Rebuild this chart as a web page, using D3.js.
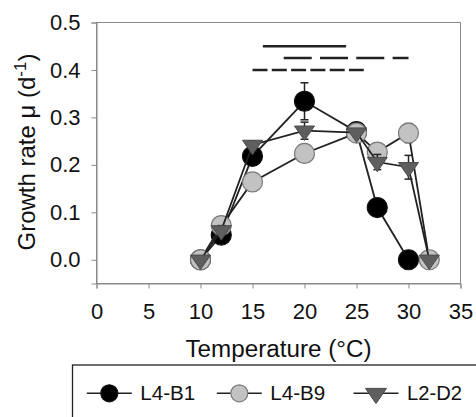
<!DOCTYPE html>
<html>
<head>
<meta charset="utf-8">
<script src="https://cdn.jsdelivr.net/npm/d3@7"></script>
<style>
  html, body { margin: 0; padding: 0; background: #fff; }
  svg { display: block; }
  text { font-family: "Liberation Sans", Arial, sans-serif; fill: #111; }
</style>
</head>
<body>
<svg id="chart" width="476" height="417"></svg>
<script>
// ---- data ----
const seriesNames = ["L4-B1", "L4-B9", "L2-D2"];
const tempsB1 = [10, 12, 15, 20, 25, 27, 30];
const valuesB1 = [0.0, 0.052, 0.218, 0.334, 0.270, 0.110, 0.0];
const errorsB1 = [0, 0.010, 0.010, 0.039, 0.005, 0.005, 0];
const tempsB9 = [10, 12, 15, 20, 25, 27, 30, 32];
const valuesB9 = [0.0, 0.072, 0.164, 0.224, 0.267, 0.227, 0.267, 0.0];
const errorsB9 = [0, 0.005, 0.005, 0.005, 0.005, 0.008, 0.020, 0];
const tempsD2 = [10, 12, 15, 20, 25, 27, 30, 32];
const valuesD2 = [0.0, 0.062, 0.242, 0.272, 0.268, 0.206, 0.195, 0.0];
const errorsD2 = [0, 0.010, 0.008, 0.018, 0.005, 0.016, 0.025, 0];
const xTicks = [0, 5, 10, 15, 20, 25, 30, 35];
const yTicks = [0.0, 0.1, 0.2, 0.3, 0.4, 0.5];
// significance bars: x start, x end, y level
const sigStarts = [16, 18, 15];
const sigEnds = [24, 30, 25.7];
const sigLevels = [0.45, 0.425, 0.40];

// ---- layout ----
const svg = d3.select("#chart");
const pLeft = 96.5, pRight = 460.5, pTop = 22.5, pBottom = 283.5;
const x = d3.scaleLinear().domain([0, 35]).range([pLeft, pRight]);
const y = d3.scaleLinear().domain([-0.05, 0.5]).range([pBottom, pTop]);

const frameColor = "#8a8a8a";
const lineColor = "#222";

// frame
svg.append("rect")
  .attr("x", pLeft).attr("y", pTop)
  .attr("width", pRight - pLeft).attr("height", pBottom - pTop)
  .attr("fill", "none").attr("stroke", frameColor).attr("stroke-width", 1);

// axes
const xAxis = svg.append("g").attr("transform", `translate(0,${pBottom})`)
  .call(d3.axisBottom(x).tickValues(xTicks).tickSize(5).tickPadding(15).tickFormat(d3.format("d")));
const yAxis = svg.append("g").attr("transform", `translate(${pLeft},0)`)
  .call(d3.axisLeft(y).tickValues(yTicks).tickSize(5).tickPadding(11).tickFormat(d3.format(".1f")));
[xAxis, yAxis].forEach(g => {
  g.select(".domain").attr("stroke", frameColor);
  g.selectAll(".tick line").attr("stroke", frameColor);
  g.selectAll(".tick text").attr("font-size", 22).attr("fill", "#111")
    .attr("font-family", '"Liberation Sans", Arial, sans-serif');
});

// axis titles
svg.append("text")
  .attr("x", (pLeft + pRight) / 2).attr("y", 357)
  .attr("text-anchor", "middle").attr("font-size", 23)
  .attr("textLength", 186).attr("lengthAdjust", "spacingAndGlyphs")
  .text("Temperature (°C)");

const yt = svg.append("text")
  .attr("transform", "translate(35,152) rotate(-90)")
  .attr("text-anchor", "middle").attr("font-size", 24);
yt.append("tspan").text("Growth rate μ (d");
yt.append("tspan").attr("font-size", 17).attr("dy", -9).text("-1");
yt.append("tspan").attr("dy", 9).text(")");

// significance lines
const sigDash = [null, "28,8.3", "15,4.3"];
sigLevels.forEach((lv, i) => {
  svg.append("line")
    .attr("x1", x(sigStarts[i])).attr("x2", x(sigEnds[i]))
    .attr("y1", y(lv)).attr("y2", y(lv))
    .attr("stroke", lineColor).attr("stroke-width", 2.5)
    .attr("stroke-dasharray", sigDash[i]);
});

// series
const series = [
  { name: seriesNames[0], t: tempsB1, v: valuesB1, e: errorsB1, shape: "circle", fill: "#000", stroke: "#111" },
  { name: seriesNames[1], t: tempsB9, v: valuesB9, e: errorsB9, shape: "circle", fill: "#c2c2c2", stroke: "#7a7a7a" },
  { name: seriesNames[2], t: tempsD2, v: valuesD2, e: errorsD2, shape: "tri", fill: "#5e5e5e", stroke: "#4a4a4a" }
];

const line = d3.line().x(d => x(d[0])).y(d => y(d[1]));

function drawMarker(g, shape, cx, cy, fill, stroke, size) {
  if (shape === "circle") {
    g.append("circle").attr("cx", cx).attr("cy", cy).attr("r", size)
      .attr("fill", fill).attr("stroke", stroke).attr("stroke-width", 1.2);
  } else {
    const w = size * 1.0, h = size * 0.85;
    g.append("path")
      .attr("d", `M${cx - w},${cy - h * 0.55}L${cx + w},${cy - h * 0.55}L${cx},${cy + h * 1.15}Z`)
      .attr("fill", fill).attr("stroke", stroke).attr("stroke-width", 1);
  }
}

series.forEach(s => {
  const g = svg.append("g");
  const pts = s.t.map((t, i) => [t, s.v[i], s.e[i]]);
  g.append("path").datum(pts).attr("d", line)
    .attr("fill", "none").attr("stroke", lineColor).attr("stroke-width", 1.8);
  // error bars
  pts.filter(p => p[2] > 0).forEach(p => {
    const cx = x(p[0]);
    const y1 = y(p[1] - p[2]), y2 = y(p[1] + p[2]);
    g.append("line").attr("x1", cx).attr("x2", cx).attr("y1", y1).attr("y2", y2)
      .attr("stroke", lineColor).attr("stroke-width", 1.5);
    [y1, y2].forEach(yy => g.append("line")
      .attr("x1", cx - 4).attr("x2", cx + 4).attr("y1", yy).attr("y2", yy)
      .attr("stroke", lineColor).attr("stroke-width", 1.5));
  });
  pts.forEach(p => drawMarker(g, s.shape, x(p[0]), y(p[1]), s.fill, s.stroke, 10));
});

// legend
const lg = svg.append("g");
lg.append("rect").attr("x", 72.5).attr("y", 365).attr("width", 420).attr("height", 80)
  .attr("fill", "#fff").attr("stroke", "#222").attr("stroke-width", 1.3);
const legendX = [109.3, 239.3, 376];
series.forEach((s, i) => {
  const cx = legendX[i], cy = 393.3;
  lg.append("line").attr("x1", cx - 22.5).attr("x2", cx + 22.5).attr("y1", cy).attr("y2", cy)
    .attr("stroke", lineColor).attr("stroke-width", 1.6);
  drawMarker(lg, s.shape, cx, cy, s.fill, s.stroke, s.shape === "circle" ? 8.5 : 10.5);
  lg.append("text").attr("x", cx + 31).attr("y", cy + 7).attr("font-size", 19.5)
    .attr("textLength", 55).attr("lengthAdjust", "spacingAndGlyphs").text(s.name);
});
</script>
</body>
</html>
